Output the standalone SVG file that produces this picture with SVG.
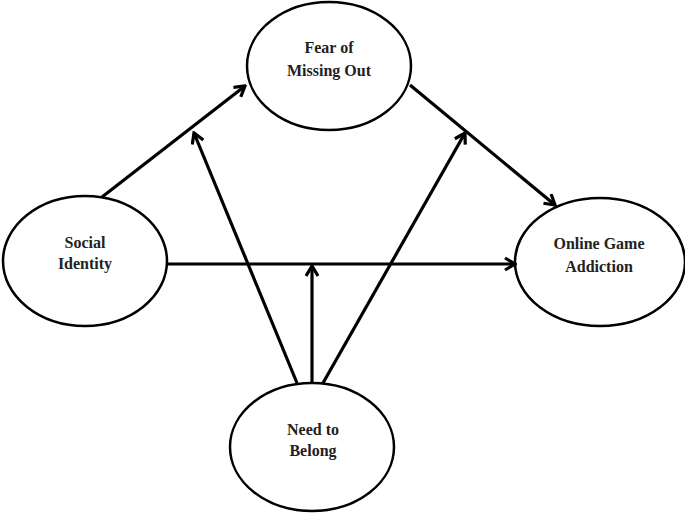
<svg xmlns="http://www.w3.org/2000/svg" width="685" height="516" viewBox="0 0 685 516">
<defs>
<style>
.node ellipse{fill:#fff;stroke:#000;stroke-width:2.5}
.node text{font-family:"Liberation Serif","Times New Roman",serif;font-weight:bold;font-size:16px;fill:#222;text-anchor:middle}
.conn line{stroke:#000;stroke-width:3.2;marker-end:url(#arr)}
</style>
<marker id="arr" markerUnits="userSpaceOnUse" viewBox="0 0 14 14" refX="12" refY="7" markerWidth="14" markerHeight="14" orient="auto">
<path d="M2,1 L12,7 L2,13" fill="none" stroke="#000" stroke-width="3.2" stroke-linejoin="miter"/>
</marker>
</defs>
<rect width="685" height="516" fill="#fff"/>
<g id="fomo" class="node">
<ellipse cx="329" cy="66" rx="82" ry="64"/>
<text x="329" y="53">Fear of</text>
<text x="329" y="76">Missing Out</text>
</g>
<g id="social" class="node">
<ellipse cx="85" cy="261" rx="82" ry="65"/>
<text x="85" y="248">Social</text>
<text x="85" y="269">Identity</text>
</g>
<g id="oga" class="node">
<ellipse cx="600" cy="262" rx="85" ry="64"/>
<text x="599" y="249">Online Game</text>
<text x="599" y="272">Addiction</text>
</g>
<g id="ntb" class="node">
<ellipse cx="312" cy="447" rx="82" ry="64"/>
<text x="313" y="435">Need to</text>
<text x="313" y="456">Belong</text>
</g>
<g id="connectors" class="conn">
<line x1="102" y1="197" x2="245" y2="86"/>
<line x1="410" y1="85" x2="555" y2="205"/>
<line x1="167" y1="264" x2="515" y2="264"/>
<line x1="312" y1="383" x2="312" y2="266"/>
<line x1="297" y1="383" x2="194" y2="133"/>
<line x1="323" y1="383" x2="465" y2="133"/>
</g>
</svg>
